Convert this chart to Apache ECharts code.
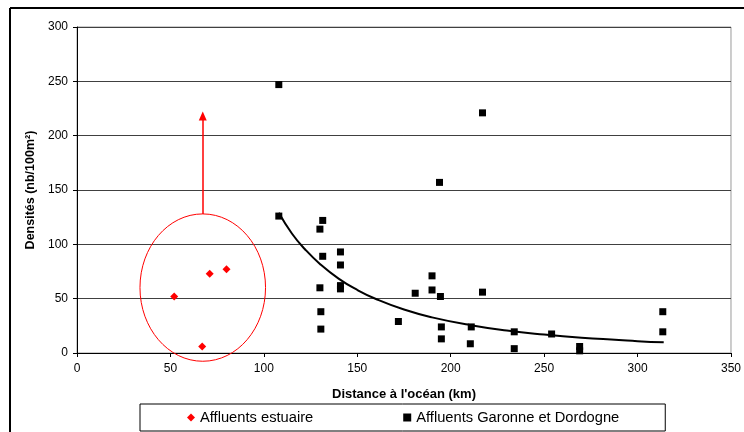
<!DOCTYPE html>
<html>
<head>
<meta charset="utf-8">
<script src="https://cdn.jsdelivr.net/npm/echarts@6/dist/echarts.min.js"></script>
<style>
  html, body { margin: 0; padding: 0; background: #fff; }
  #chart { width: 744px; height: 432px; }
</style>
</head>
<body>
<div id="chart"></div>
<script>
// Affluents estuaire (red diamonds)
const estuaireX = [52, 67, 71, 80];
const estuaireY = [52, 6, 73, 77];

// Affluents Garonne et Dordogne (black squares)
const garonneX = [108, 108, 130, 131.5, 131.5, 130, 130.5, 130.5, 141, 141, 141, 141,
  172, 181, 190, 190, 194.5, 194, 195, 195, 210.5, 211, 217, 217, 234, 234, 254, 269, 269, 313.5, 313.5];
const garonneY = [247, 126, 114, 122, 89, 60, 38, 22, 93, 81, 62, 59,
  29, 55, 71, 58, 52, 157, 24, 13, 8.5, 24, 221, 56, 19.5, 4, 17.5, 6, 2, 38, 19.5];

// trend curve
const trendX = [108, 115, 122, 130, 140, 150, 160, 175, 190, 210, 230, 250, 270, 290, 300, 314];
const trendY = [129, 110, 95.5, 82, 68.5, 58, 49.7, 40, 32.8, 25.8, 20.7, 17, 14.1, 12, 10.9, 9.8];

// annotation: circled group and arrow (data units)
const circleCenter = [67.3, 60.2];
const circleRadius = [33.6, 67.8];
const arrowFrom = [67.3, 128];
const arrowTo = [67.3, 218];

const xTicks = { min: 0, max: 350, interval: 50 };
const yTicks = { min: 0, max: 300, interval: 50 };

const font = "'Liberation Sans', Arial, sans-serif";

const chart = echarts.init(document.getElementById("chart"));

const option = {
  animation: false,
  backgroundColor: "#fff",
  grid: {
    left: 77, right: 7, top: 27, bottom: 79,
    show: true, borderColor: "#9a9a9a", borderWidth: 1,
  },
  legend: {
    left: 140, top: 404,
    padding: [6, 46, 6, 47],
    itemGap: 90,
    itemWidth: 8, itemHeight: 8,
    borderColor: "#000", borderWidth: 1,
    backgroundColor: "#fff",
    textStyle: { fontFamily: font, fontSize: 14.7, color: "#000" },
    data: [
      { name: "Affluents estuaire", icon: "diamond" },
      { name: "Affluents Garonne et Dordogne", icon: "rect" },
    ],
  },
  xAxis: {
    type: "value",
    ...xTicks,
    name: "Distance à l'océan (km)",
    nameLocation: "middle",
    nameGap: 35,
    nameTextStyle: { fontFamily: font, fontSize: 13, fontWeight: "bold", color: "#000" },
    axisLine: { show: true, lineStyle: { color: "#000", width: 1 } },
    axisTick: { show: true, inside: false, length: 4, lineStyle: { color: "#000" } },
    axisLabel: { fontFamily: font, fontSize: 12, color: "#000", margin: 10 },
    splitLine: { show: false },
  },
  yAxis: {
    type: "value",
    ...yTicks,
    name: "Densités (nb/100m²)",
    nameLocation: "middle",
    nameGap: 36,
    nameTextStyle: { fontFamily: font, fontSize: 12.5, fontWeight: "bold", color: "#000" },
    axisLine: { show: true, lineStyle: { color: "#000", width: 1 } },
    axisTick: { show: true, inside: false, length: 4, lineStyle: { color: "#000" } },
    axisLabel: { fontFamily: font, fontSize: 12, color: "#000", margin: 9 },
    splitLine: { show: true, lineStyle: { color: "#404040", width: 1 } },
  },
  series: [
    {
      name: "Affluents estuaire",
      type: "scatter",
      symbol: "diamond",
      symbolSize: 8,
      itemStyle: { color: "#ff0000", opacity: 1 },
      data: estuaireX.map((x, i) => [x, estuaireY[i]]),
      z: 3,
      markLine: {
        silent: true,
        symbol: ["none", "triangle"],
        symbolSize: [8, 9],
        itemStyle: { color: "#ff0000", opacity: 1 },
        lineStyle: { color: "#ff0000", width: 1.5, type: "solid", opacity: 1 },
        label: { show: false },
        emphasis: { disabled: true },
        data: [[{ coord: arrowFrom }, { coord: arrowTo }]],
      },
    },
    {
      name: "Affluents Garonne et Dordogne",
      type: "scatter",
      symbol: "rect",
      symbolSize: 7,
      itemStyle: { color: "#000", opacity: 1 },
      data: garonneX.map((x, i) => [x, garonneY[i]]),
      z: 3,
    },
    {
      name: "trend",
      type: "line",
      smooth: true,
      showSymbol: false,
      silent: true,
      lineStyle: { color: "#000", width: 2 },
      data: trendX.map((x, i) => [x, trendY[i]]),
      z: 4,
    },
  ],
};

chart.setOption(option);

// ellipse round the estuary points, and the outer frame
const c = chart.convertToPixel({ xAxisIndex: 0, yAxisIndex: 0 }, circleCenter);
const e = chart.convertToPixel({ xAxisIndex: 0, yAxisIndex: 0 },
  [circleCenter[0] + circleRadius[0], circleCenter[1] + circleRadius[1]]);

chart.setOption({
  graphic: [
    {
      type: "ellipse",
      shape: { cx: c[0], cy: c[1], rx: e[0] - c[0], ry: c[1] - e[1] },
      style: { fill: "none", stroke: "#ff0000", lineWidth: 1 },
      silent: true,
      z: 2,
    },
    {
      type: "line",
      shape: { x1: 10, y1: 8, x2: 744, y2: 8 },
      style: { stroke: "#000", lineWidth: 2 },
      silent: true,
    },
    {
      type: "line",
      shape: { x1: 10, y1: 8, x2: 10, y2: 432 },
      style: { stroke: "#000", lineWidth: 2 },
      silent: true,
    },
  ],
});
</script>
</body>
</html>
